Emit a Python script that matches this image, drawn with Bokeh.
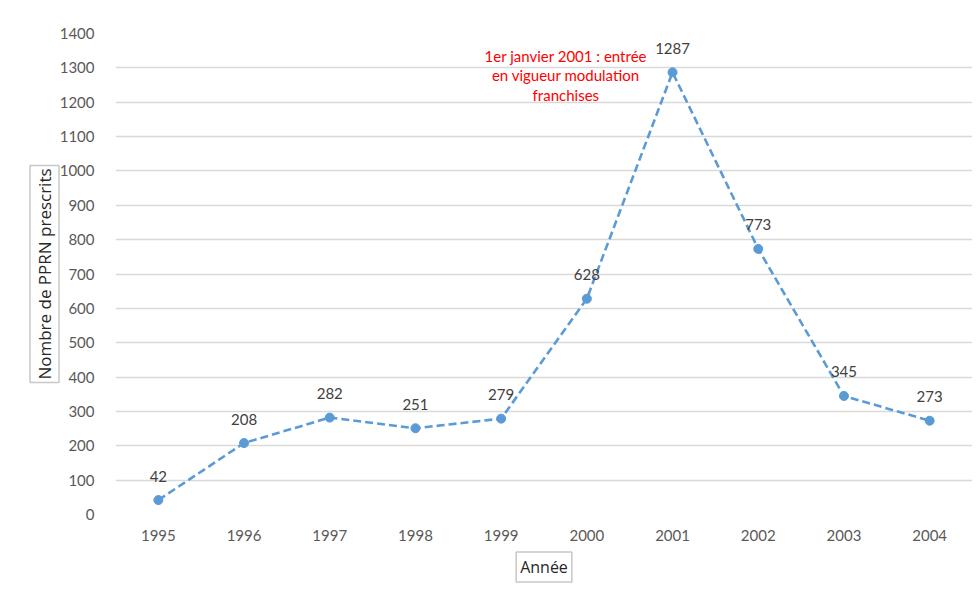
from bokeh.plotting import figure
from bokeh.models import ColumnDataSource, Range1d, FactorRange, Title, SingleIntervalTicker
from bokeh.core.properties import value
from bokeh.embed import file_html
from bokeh.resources import INLINE

years = ["1995", "1996", "1997", "1998", "1999", "2000", "2001", "2002", "2003", "2004"]
pprn = [42, 208, 282, 251, 279, 628, 1287, 773, 345, 273]
labels = [str(v) for v in pprn]
y_title = "Nombre de PPRN prescrits"
x_title = "Année"
note = "1er janvier 2001 : entrée\nen vigueur modulation\nfranchises"
note_year = "2000"
note_value = 1362

FONT = "Lato"
TFONT = "Open Sans"
BLUE = "#5b9bd5"

src = ColumnDataSource(dict(x=years, y=pprn, lab=labels))

p = figure(width=972, height=590, x_range=FactorRange(*years), y_range=Range1d(0, 1400),
           output_backend="svg", toolbar_location=None,
           min_border_left=115, min_border_right=0, min_border_top=33, min_border_bottom=76)
p.outline_line_color = None
p.xgrid.grid_line_color = None
p.ygrid.grid_line_color = "#d9d9d9"
p.ygrid.grid_line_width = 1.3
p.yaxis.ticker = SingleIntervalTicker(interval=100)

for ax in (p.xaxis, p.yaxis):
    ax.axis_line_color = None
    ax.major_tick_line_color = None
    ax.minor_tick_line_color = None
    ax.major_tick_out = 0
    ax.major_tick_in = 0
    ax.major_label_text_font = FONT
    ax.major_label_text_font_size = "15px"
    ax.major_label_text_color = "#595959"
p.yaxis.major_label_standoff = 17
p.xaxis.major_label_standoff = 15
p.x_range.range_padding = 0

p.line("x", "y", source=src, line_color=BLUE, line_width=2.6, line_dash="8 4")
p.scatter("x", "y", source=src, size=9, fill_color=BLUE, line_color=BLUE)
p.text("x", "y", text="lab", source=src, y_offset=-24, text_align="center",
       text_baseline="middle", text_font=value(FONT), text_font_size="15px",
       text_color="#404040")

p.text(x=[note_year], y=[note_value], text=[note], x_offset=-21, text_align="center",
       text_baseline="top", text_font=value(FONT), text_font_size="15px",
       text_color="#ff0000", text_line_height=1.1)

# axis titles as boxed titles
p.add_layout(Title(text=y_title, align="center", text_font=TFONT, text_font_size="17px",
                   text_font_style="normal", text_color="#262626",
                   background_fill_color="white", border_line_color="#c8c8c8",
                   border_line_width=1.5, padding=3, standoff=-5, offset=0), "left")
p.add_layout(Title(text=x_title, align="center", text_font=TFONT, text_font_size="16px",
                   text_font_style="normal", text_color="#262626",
                   background_fill_color="white", border_line_color="#c8c8c8",
                   border_line_width=1.5, padding=4, standoff=13, offset=0), "below")

open("out.html", "w").write(file_html(p, INLINE))
